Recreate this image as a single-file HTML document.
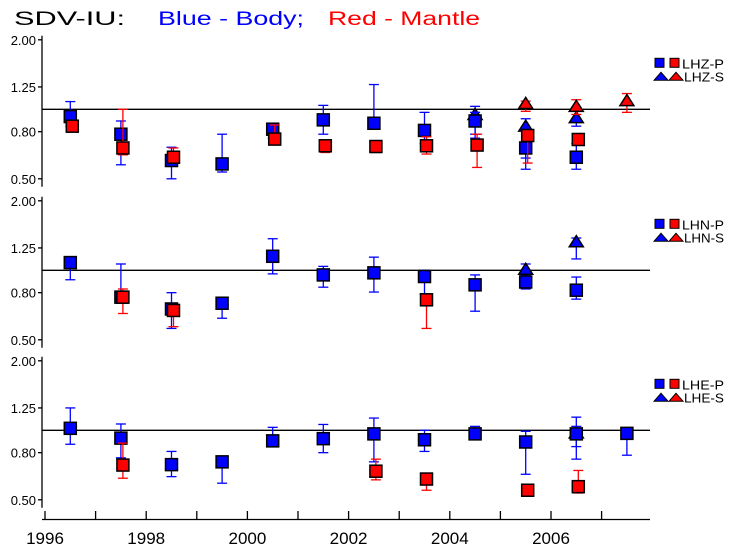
<!DOCTYPE html>
<html><head><meta charset="utf-8"><style>
html,body{margin:0;padding:0;background:#fff;}
svg{display:block;font-family:"Liberation Sans","DejaVu Sans",sans-serif;}
</style></head><body>
<svg id="chart" width="733" height="551" viewBox="0 0 733 551" xmlns="http://www.w3.org/2000/svg">
<g>
<text x="14" y="25" font-size="19" fill="#000" textLength="111" lengthAdjust="spacingAndGlyphs">SDV-IU:</text>
<text x="158" y="25" font-size="19" fill="#0000ff" textLength="146" lengthAdjust="spacingAndGlyphs">Blue - Body;</text>
<text x="328" y="25" font-size="19" fill="#ff0000" textLength="152" lengthAdjust="spacingAndGlyphs">Red - Mantle</text>
</g>
</svg>
<script>
// ---- data ----
const yTicks = [2.00, 1.25, 0.80, 0.50];
const yTickLabels = ["2.00", "1.25", "0.80", "0.50"];
const xTickYears = [1996,1997,1998,1999,2000,2001,2002,2003,2004,2005,2006,2007];
const xLabelYears = [1996,1998,2000,2002,2004,2006];
const panelNames = ["LHZ", "LHN", "LHE"];

// Panel LHZ
const lhzBluePYears = [1996.5,1997.5,1998.5,1999.5,2000.5,2001.5,2002.5,2003.5,2004.5,2005.5,2006.5];
const lhzBluePVals  = [0.93,0.78,0.60,0.58,0.82,0.90,0.87,0.81,0.89,0.68,0.62];
const lhzBluePLo    = [0.845,0.575,0.50,0.535,0.75,0.78,0.83,0.71,0.78,0.55,0.55];
const lhzBluePHi    = [1.08,0.89,0.685,0.78,0.855,1.04,1.28,0.97,0.97,0.82,0.71];
const lhzRedPYears  = [1996.5,1997.5,1998.5,2000.5,2001.5,2002.5,2003.5,2004.5,2005.5,2006.5];
const lhzRedPVals   = [0.845,0.68,0.62,0.743,0.695,0.69,0.695,0.70,0.77,0.74];
const lhzRedPLo     = [0.80,0.635,0.61,0.71,0.65,0.65,0.64,0.56,0.585,0.71];
const lhzRedPHi     = [0.86,1.00,0.68,0.855,0.73,0.72,0.76,0.78,0.80,0.765];
const lhzBlueSYears = [2004.5,2005.5,2006.5];
const lhzBlueSVals  = [0.95,0.845,0.92];
const lhzBlueSLo    = [0.75,0.615,0.845];
const lhzBlueSHi    = [1.03,0.91,0.98];
const lhzRedSYears  = [2005.5,2006.5,2007.5];
const lhzRedSVals   = [1.06,1.03,1.09];
const lhzRedSLo     = [0.98,0.95,0.97];
const lhzRedSHi     = [1.085,1.10,1.17];

// Panel LHN
const lhnBluePYears = [1996.5,1997.5,1998.5,1999.5,2000.5,2001.5,2002.5,2003.5,2004.5,2005.5,2006.5];
const lhnBluePVals  = [1.08,0.765,0.68,0.72,1.15,0.955,0.975,0.94,0.865,0.89,0.82];
const lhnBluePLo    = [0.91,0.72,0.56,0.62,0.965,0.845,0.805,0.79,0.665,0.83,0.75];
const lhnBluePHi    = [1.12,1.065,0.80,0.765,1.37,1.04,1.14,1.00,0.955,0.925,0.935];
const lhnRedPYears  = [1997.5,1998.5,2003.5];
const lhnRedPVals   = [0.765,0.67,0.745];
const lhnRedPLo     = [0.65,0.57,0.56];
const lhnRedPHi     = [0.83,0.69,0.77];
const lhnBlueSYears = [2005.5,2006.5];
const lhnBlueSVals  = [1.01,1.33];
const lhnBlueSLo    = [0.955,1.12];
const lhnBlueSHi    = [1.065,1.38];
const lhnRedSYears  = [];
const lhnRedSVals   = [];
const lhnRedSLo     = [];
const lhnRedSHi     = [];

// Panel LHE
const lheBluePYears = [1996.5,1997.5,1998.5,1999.5,2000.5,2001.5,2002.5,2003.5,2004.5,2005.5,2006.5,2007.5];
const lheBluePVals  = [1.02,0.925,0.71,0.73,0.90,0.92,0.965,0.91,0.965,0.89,0.965,0.97];
const lheBluePLo    = [0.87,0.76,0.63,0.59,0.89,0.80,0.73,0.81,0.91,0.645,0.75,0.78];
const lheBluePHi    = [1.25,1.065,0.81,0.745,1.03,1.06,1.13,1.00,1.04,0.99,1.04,1.02];
const lheRedPYears  = [1997.5,2002.5,2003.5,2005.5,2006.5];
const lheRedPVals   = [0.707,0.665,0.615,0.55,0.57];
const lheRedPLo     = [0.62,0.61,0.55,0.525,0.535];
const lheRedPHi     = [0.88,0.75,0.645,0.57,0.67];
const lheBlueSYears = [2006.5];
const lheBlueSVals  = [0.975];
const lheBlueSLo    = [0.85];
const lheBlueSHi    = [1.14];
const lheRedSYears  = [];
const lheRedSVals   = [];
const lheRedSLo     = [];
const lheRedSHi     = [];

// ---- layout ----
const NS = "http://www.w3.org/2000/svg";
const svg = document.getElementById("chart");
const X0 = 42, X1 = 650;
function xScale(yr){ return 45 + (yr - 1996) * 50.6; }
const panelOne = [109.3, 270.3, 430.3]; // y of value 1.0
const octave = 69.5;
function yScaleFor(p){ return v => panelOne[p] - Math.log2(v) * octave; }

function mk(tag, attrs, parent){
  const e = document.createElementNS(NS, tag);
  for (const k in attrs) e.setAttribute(k, attrs[k]);
  (parent || svg).appendChild(e);
  return e;
}

const panels = [
  {bp:[lhzBluePYears,lhzBluePVals,lhzBluePLo,lhzBluePHi], rp:[lhzRedPYears,lhzRedPVals,lhzRedPLo,lhzRedPHi],
   bs:[lhzBlueSYears,lhzBlueSVals,lhzBlueSLo,lhzBlueSHi], rs:[lhzRedSYears,lhzRedSVals,lhzRedSLo,lhzRedSHi]},
  {bp:[lhnBluePYears,lhnBluePVals,lhnBluePLo,lhnBluePHi], rp:[lhnRedPYears,lhnRedPVals,lhnRedPLo,lhnRedPHi],
   bs:[lhnBlueSYears,lhnBlueSVals,lhnBlueSLo,lhnBlueSHi], rs:[lhnRedSYears,lhnRedSVals,lhnRedSLo,lhnRedSHi]},
  {bp:[lheBluePYears,lheBluePVals,lheBluePLo,lheBluePHi], rp:[lheRedPYears,lheRedPVals,lheRedPLo,lheRedPHi],
   bs:[lheBlueSYears,lheBlueSVals,lheBlueSLo,lheBlueSHi], rs:[lheRedSYears,lheRedSVals,lheRedSLo,lheRedSHi]}
];

function errBar(g, x, ylo, yhi, color){
  const b = mk("line",{x1:x,y1:ylo,x2:x,y2:yhi,stroke:color,"stroke-width":1.3},g);
  
  
  mk("line",{x1:x-5,y1:ylo,x2:x+5,y2:ylo,stroke:color,"stroke-width":1.3},g);
  mk("line",{x1:x-5,y1:yhi,x2:x+5,y2:yhi,stroke:color,"stroke-width":1.3},g);
}
function square(g, x, y, color){
  const s = mk("rect",{x:x-6,y:y-6,width:12,height:12,fill:color,stroke:"#000","stroke-width":1.5},g);
  
  
}
function tri(g, x, y, color){
  const t = mk("polygon",{points:`${x-7},${y+5} ${x},${y-6} ${x+7},${y+5}`,fill:color,stroke:"#000","stroke-width":1.5},g);
  
  
}
function drawSeries(g, ser, ys, color, dx, kind, name){
  const sg = mk("g",{},g);
  
  
  const [yr, v, lo, hi] = ser;
  for (let i=0;i<yr.length;i++){
    const x = xScale(yr[i]) + dx;
    errBar(sg, x, ys(lo[i]), ys(hi[i]), color);
  }
  for (let i=0;i<yr.length;i++){
    const x = xScale(yr[i]) + dx;
    if (kind === "sq") square(sg, x, ys(v[i]), color); else tri(sg, x, ys(v[i]), color);
  }
}

panels.forEach((P, p) => {
  const ys = yScaleFor(p);
  const g = mk("g",{});
  
  
  const ya = mk("line",{x1:X0,y1:ys(2.0)-4,x2:X0,y2:ys(0.5)+8,stroke:"#000","stroke-width":1.3},g);
  
  
  yTicks.forEach((t,i)=>{
    const y = ys(t);
    mk("line",{x1:X0-4,y1:y,x2:X0,y2:y,stroke:"#000","stroke-width":1.3},g);
    const lb = mk("text",{x:X0-6,y:y+5,"font-size":13,"text-anchor":"end",fill:"#000"},g);
    lb.textContent = yTickLabels[i];
    
    
  });
  const rl = mk("line",{x1:X0,y1:ys(1),x2:X1,y2:ys(1),stroke:"#000","stroke-width":1.3},g);
  
  
  drawSeries(g, P.bs, ys, "#0000ff", 0, "tri", "blue-s-series");
  drawSeries(g, P.rs, ys, "#ff0000", 0, "tri", "red-s-series");
  drawSeries(g, P.bp, ys, "#0000ff", 0, "sq", "blue-p-series");
  drawSeries(g, P.rp, ys, "#ff0000", 2, "sq", "red-p-series");
  const lg = mk("g",{},g);
  
  
  const ly = ys(1) - 51;
  mk("rect",{x:655,y:ly,width:9,height:9,fill:"#0000ff",stroke:"#000","stroke-width":1},lg);
  mk("rect",{x:670,y:ly,width:9,height:9,fill:"#ff0000",stroke:"#000","stroke-width":1},lg);
  const t1 = mk("text",{x:682,y:ly+10,"font-size":13,fill:"#000",textLength:"42",lengthAdjust:"spacingAndGlyphs"},lg);
  t1.textContent = panelNames[p] + "-P";
  
  
  const ty = ly + 22;
  mk("polygon",{points:`654,${ty} 661,${ty-8} 668,${ty}`,fill:"#0000ff",stroke:"#000","stroke-width":1},lg);
  mk("polygon",{points:`669,${ty} 676,${ty-8} 683,${ty}`,fill:"#ff0000",stroke:"#000","stroke-width":1},lg);
  const t2 = mk("text",{x:684,y:ty+1,"font-size":13,fill:"#000",textLength:"40",lengthAdjust:"spacingAndGlyphs"},lg);
  t2.textContent = panelNames[p] + "-S";
  
  
});

const xa = mk("g",{});


mk("line",{x1:X0,y1:519.5,x2:X1,y2:519.5,stroke:"#000","stroke-width":1.3},xa);
xTickYears.forEach(yr=>{
  const x = xScale(yr);
  mk("line",{x1:x,y1:519.5,x2:x,y2:511,stroke:"#000","stroke-width":1.3},xa);
});
xLabelYears.forEach(yr=>{
  const t = mk("text",{x:xScale(yr),y:544,"font-size":17,"text-anchor":"middle",fill:"#000"},xa);
  t.textContent = String(yr);
  
  
});
</script>
</body></html>
